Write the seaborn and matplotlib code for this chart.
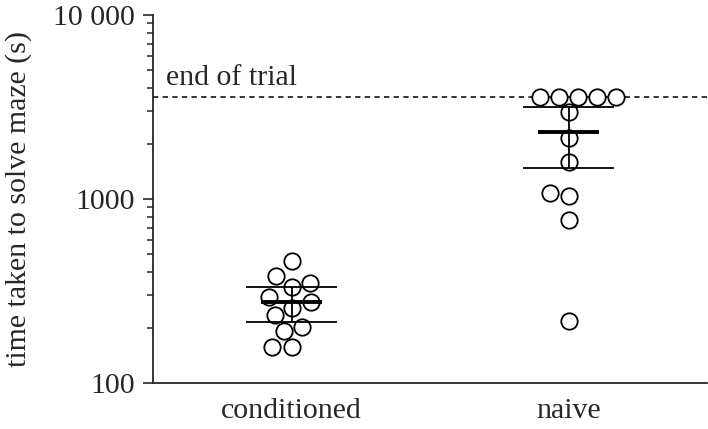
"""Maze solving time: conditioned vs naive, swarm of points with mean and 95% CI."""
import numpy as np
import pandas as pd
import matplotlib
matplotlib.use('Agg')
import matplotlib.pyplot as plt
import seaborn as sns

GROUPS = ['conditioned', 'naive']
conditioned_times = [462, 383, 348, 334, 292, 276, 257, 235, 201, 192, 157, 156]
naive_times = [3600, 3600, 3600, 3600, 3600, 2958, 2153, 1595, 1074, 1038, 769, 218]
END_OF_TRIAL = 3600
YTICKS = [100, 1000, 10000]
YTICK_LABELS = ['100', '1000', '10 000']
T_CRIT = 2.201  # t(0.975, df=11)
FS = 21.5

df = pd.DataFrame({
    'group': ['conditioned'] * len(conditioned_times) + ['naive'] * len(naive_times),
    'time': conditioned_times + naive_times,
})

sns.set_style('ticks')
plt.rcParams['font.family'] = ['Liberation Serif', 'DejaVu Serif']

fig = plt.figure(figsize=(7.08, 4.29), dpi=100)
ax = fig.add_axes([0.2161, 0.1072, 0.7825, 0.8578])

ax.axhline(END_OF_TRIAL, color='black', linestyle=(0, (3.5, 2.8)),
           linewidth=1.1, zorder=1)
ax.text(0.024, END_OF_TRIAL * 1.15, 'end of trial', fontsize=FS,
        transform=ax.get_yaxis_transform(), va='baseline', ha='left')

sns.swarmplot(data=df, x='group', y='time', order=GROUPS, ax=ax,
              log_scale=True, size=11.8, color='white', edgecolor='black',
              linewidth=1.3, zorder=3)

# mean and 95% confidence interval
for i, g in enumerate(GROUPS):
    vals = df.loc[df['group'] == g, 'time'].to_numpy(dtype=float)
    m = vals.mean()
    half = T_CRIT * vals.std(ddof=1) / np.sqrt(len(vals))
    ax.vlines(i, m - half, m + half, color='black', linewidth=1.3, zorder=4)
    ax.hlines([m - half, m + half], i - 0.165, i + 0.165, color='black',
              linewidth=1.3, zorder=4)
    ax.hlines(m, i - 0.11, i + 0.11, color='black', linewidth=2.8, zorder=4)

ax.set_xlim(-0.5, 1.5)
ax.set_ylim(100, 10000)
ax.set_yticks(YTICKS)
ax.set_yticklabels(YTICK_LABELS)
ax.set_xlabel('')
ax.set_ylabel('time taken to solve maze (s)', fontsize=FS, labelpad=15)

sns.despine(ax=ax)
for side in ['left', 'bottom']:
    ax.spines[side].set_linewidth(1.3)
ax.tick_params(axis='x', length=0, labelsize=FS, pad=11)
ax.tick_params(axis='y', which='major', length=7, width=1.2, labelsize=FS, pad=6)
ax.tick_params(axis='y', which='minor', length=4, width=1.1)

fig.savefig('out.png', dpi=100)
